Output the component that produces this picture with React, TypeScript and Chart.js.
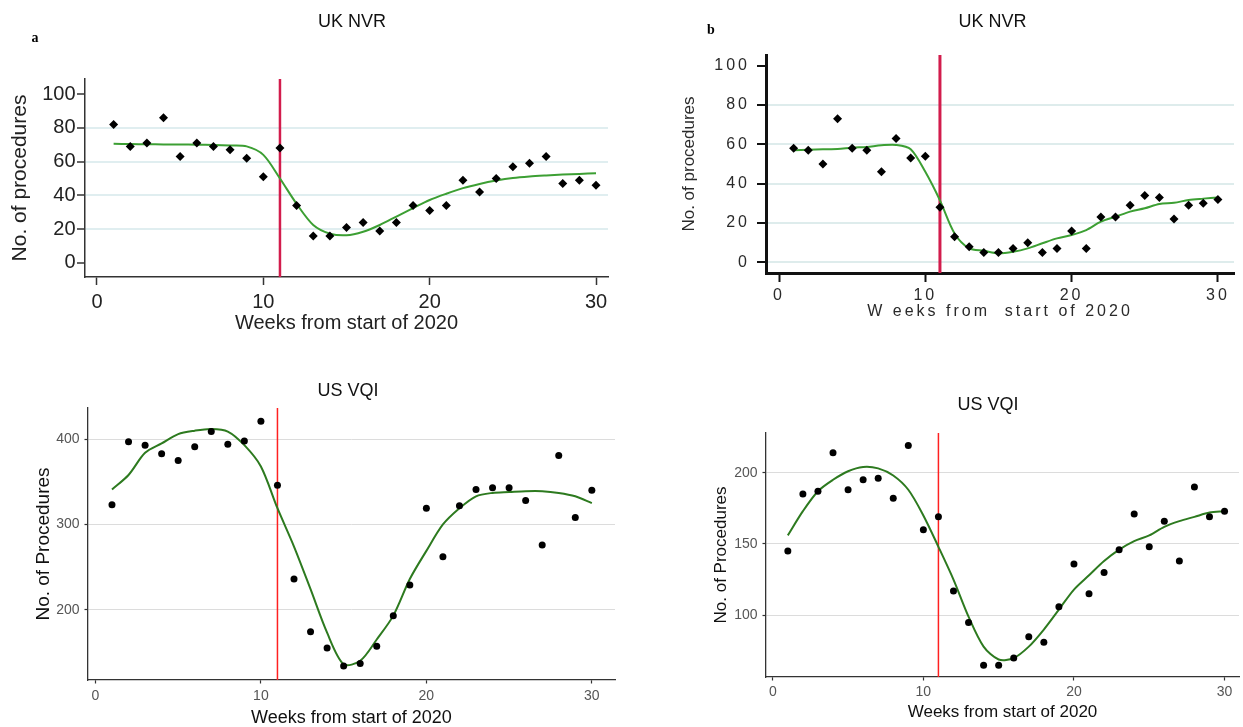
import React, { useEffect, useRef } from "react";
import { Chart, registerables } from "chart.js";

Chart.register(...registerables);

// ---------------- data ----------------
const WEEKS = [1, 2, 3, 4, 5, 6, 7, 8, 9, 10, 11, 12, 13, 14, 15, 16, 17, 18, 19, 20, 21, 22, 23, 24, 25, 26, 27, 28, 29, 30];
const LOCKDOWN_WEEK = 11;
const X_TICKS = [0, 10, 20, 30];

// a: UK NVR
const A_Y_TICKS = [0, 20, 40, 60, 80, 100];
const A_Y_GRID = [20, 40, 60, 80];
const A_POINTS = [82, 69, 71, 86, 63, 71, 69, 67, 62, 51, 68, 34, 16, 16, 21, 24, 19, 24, 34, 31, 34, 49, 42, 50, 57, 59, 63, 47, 49, 46];
const A_SMOOTH = [70.5, 70.4, 70.3, 70.2, 70.1, 70.0, 69.8, 69.5, 69.0, 64.0, 50.0, 35.0, 22.5, 17.4, 16.4, 18.5, 22.5, 27.5, 32.5, 37.3, 41.0, 44.3, 46.8, 48.8, 50.3, 51.2, 51.8, 52.3, 52.7, 53.1];

// b: UK NVR
const B_Y_TICKS = [0, 20, 40, 60, 80, 100];
const B_Y_GRID = [0, 20, 40, 60, 80];
const B_POINTS = [58, 57, 50, 73, 58, 57, 46, 63, 53, 54, 28, 13, 8, 5, 5, 7, 10, 5, 7, 16, 7, 23, 23, 29, 34, 33, 22, 29, 30, 32];
const B_SMOOTH = [57, 57.3, 57.5, 57.6, 58.3, 58.7, 59.5, 59.7, 57.5, 46, 31.5, 14.7, 7.1, 5.9, 4.6, 5.4, 7.1, 9.7, 12.2, 13.9, 16.4, 20.7, 23.2, 25.8, 27.5, 29.7, 30.3, 31.7, 32.4, 33];

// c: US VQI
const C_Y_TICKS = [200, 300, 400];
const C_POINTS = [323, 397, 393, 383, 375, 391, 409, 394, 398, 421, 346, 236, 174, 155, 134, 137, 157, 193, 229, 319, 262, 322, 341, 343, 343, 328, 276, 381, 308, 340];
const C_SMOOTH = [341, 358, 384, 395, 406, 410, 412, 409, 393, 368, 319, 274, 224, 173, 136, 140, 165, 193, 236, 269, 300, 319, 333, 337, 338, 339, 339, 337, 333, 325];

// d: US VQI
const D_Y_TICKS = [100, 150, 200];
const D_POINTS = [145, 185, 187, 214, 188, 195, 196, 182, 219, 160, 169, 117, 95, 65, 65, 70, 85, 81, 106, 136, 115, 130, 146, 171, 148, 166, 138, 190, 169, 173];
const D_SMOOTH = [156, 173, 187, 195, 201, 204, 203, 198, 188, 170, 148, 125, 99, 78, 69, 70, 78, 90, 104, 118, 128, 138, 146, 152, 156, 162, 166, 169, 172, 173];

// ---------------- styling / layout ----------------
const SANS = "'Liberation Sans', Arial, sans-serif";
const SERIF = "'Liberation Serif', 'Times New Roman', serif";

type TextItem = { text: string; x: number; y: number; font: string; color: string };

type PanelCfg = {
  key: string;
  left: number; top: number; width: number; height: number;
  padTop: number; padRight: number; yAxisWidth: number; xAxisHeight: number;
  xMin: number; xMax: number;
  yMin: number; yMax: number; yTicks: number[]; yGrid: number[] | null;
  points: number[]; smooth: number[];
  pointStyle: string; pointRadius: number;
  smoothColor: string; smoothWidth: number;
  vlineColor: string; vlineWidth: number;
  tickSize: number; tickColor: string; tickLength: number; tickWidth: number;
  xTickPad: number; yTickPad: number;
  axisColor: string; axisWidth: number;
  gridColor: string; gridWidth: number;
  xTitle: string; xTitleSize: number; xTitlePad: number;
  yTitle: string; yTitleSize: number; yTitlePad: number;
  titleColor: string;
  letterSpacing: string;
  unspacedSize: string | null;
  texts: TextItem[];
};

const PANELS: PanelCfg[] = [
  {
    key: "a",
    left: 0, top: 0, width: 620, height: 340,
    padTop: 79, padRight: 12, yAxisWidth: 85, xAxisHeight: 63,
    xMin: -0.72, xMax: 30.72,
    yMin: -8.3, yMax: 108.9, yTicks: A_Y_TICKS, yGrid: A_Y_GRID,
    points: A_POINTS, smooth: A_SMOOTH,
    pointStyle: "rectRot", pointRadius: 4.5,
    smoothColor: "#3c9f33", smoothWidth: 2,
    vlineColor: "#d21c4c", vlineWidth: 2.5,
    tickSize: 20, tickColor: "#222", tickLength: 8, tickWidth: 1.5,
    xTickPad: 5, yTickPad: 1.5,
    axisColor: "#333", axisWidth: 1.5,
    gridColor: "#e0eef0", gridWidth: 2,
    xTitle: "Weeks from start of 2020", xTitleSize: 20, xTitlePad: 7,
    yTitle: "No. of procedures", yTitleSize: 21, yTitlePad: 9.5,
    titleColor: "#222",
    letterSpacing: "0px",
    unspacedSize: null,
    texts: [
      { text: "UK NVR", x: 352, y: 21.7, font: `18px ${SANS}`, color: "#111" },
      { text: "a", x: 35, y: 38, font: `bold 14px ${SERIF}`, color: "#000" },
    ],
  },
  {
    key: "b",
    left: 620, top: 0, width: 623, height: 340,
    padTop: 55, padRight: 9, yAxisWidth: 146, xAxisHeight: 67,
    xMin: -0.89, xMax: 31.1,
    yMin: -5.4, yMax: 105.4, yTicks: B_Y_TICKS, yGrid: B_Y_GRID,
    points: B_POINTS, smooth: B_SMOOTH,
    pointStyle: "rectRot", pointRadius: 4.5,
    smoothColor: "#3c9f33", smoothWidth: 2,
    vlineColor: "#d21c4c", vlineWidth: 3,
    tickSize: 16, tickColor: "#2a2a2a", tickLength: 9, tickWidth: 2,
    xTickPad: 4, yTickPad: 7,
    axisColor: "#111", axisWidth: 3,
    gridColor: "#deecec", gridWidth: 2,
    xTitle: "W eeks from  start of 2020", xTitleSize: 16, xTitlePad: 20,
    yTitle: "No. of procedures", yTitleSize: 17, yTitlePad: 61,
    titleColor: "#2a2a2a",
    letterSpacing: "3px",
    unspacedSize: "17px",
    texts: [
      { text: "UK NVR", x: 372.6, y: 21.7, font: `18px ${SANS}`, color: "#111" },
      { text: "b", x: 91, y: 30, font: `bold 14px ${SERIF}`, color: "#000" },
    ],
  },
  {
    key: "c",
    left: 0, top: 360, width: 620, height: 367,
    padTop: 48, padRight: 5, yAxisWidth: 88, xAxisHeight: 47,
    xMin: -0.45, xMax: 31.4,
    yMin: 117.5, yMax: 436.6, yTicks: C_Y_TICKS, yGrid: null,
    points: C_POINTS, smooth: C_SMOOTH,
    pointStyle: "circle", pointRadius: 3.5,
    smoothColor: "#2d7a1f", smoothWidth: 2,
    vlineColor: "#ff2020", vlineWidth: 1.5,
    tickSize: 14, tickColor: "#555", tickLength: 3.5, tickWidth: 1.2,
    xTickPad: 4, yTickPad: 5,
    axisColor: "#333", axisWidth: 1.3,
    gridColor: "#dcdcdc", gridWidth: 1,
    xTitle: "Weeks from start of 2020", xTitleSize: 18, xTitlePad: 0,
    yTitle: "No. of Procedures", yTitleSize: 19, yTitlePad: 34,
    titleColor: "#111",
    letterSpacing: "0px",
    unspacedSize: null,
    texts: [{ text: "US VQI", x: 348, y: 30.7, font: `18px ${SANS}`, color: "#111" }],
  },
  {
    key: "d",
    left: 620, top: 360, width: 623, height: 367,
    padTop: 73, padRight: 0, yAxisWidth: 146, xAxisHeight: 50,
    xMin: -0.45, xMax: 30.96,
    yMin: 56.7, yMax: 227.8, yTicks: D_Y_TICKS, yGrid: null,
    points: D_POINTS, smooth: D_SMOOTH,
    pointStyle: "circle", pointRadius: 3.5,
    smoothColor: "#2d7a1f", smoothWidth: 2,
    vlineColor: "#ff2020", vlineWidth: 1.5,
    tickSize: 14, tickColor: "#555", tickLength: 3.5, tickWidth: 1.2,
    xTickPad: 3, yTickPad: 5,
    axisColor: "#333", axisWidth: 1.3,
    gridColor: "#dcdcdc", gridWidth: 1,
    xTitle: "Weeks from start of 2020", xTitleSize: 17, xTitlePad: 6,
    yTitle: "No. of Procedures", yTitleSize: 17, yTitlePad: 92.5,
    titleColor: "#111",
    letterSpacing: "0px",
    unspacedSize: null,
    texts: [{ text: "US VQI", x: 368, y: 45, font: `18px ${SANS}`, color: "#111" }],
  },
];

function buildConfig(c: PanelCfg): any {
  const pts = WEEKS.map((w, i) => ({ x: w, y: c.points[i] }));
  const sm = WEEKS.map((w, i) => ({ x: w, y: c.smooth[i] }));
  const vl = [
    { x: LOCKDOWN_WEEK, y: c.yMin },
    { x: LOCKDOWN_WEEK, y: c.yMax },
  ];
  const tickFont = { family: SANS, size: c.tickSize, lineHeight: 1.2 };

  const textPlugin = {
    id: "panelText" + c.key,
    beforeDraw(chart: any) {
      const ctx = chart.ctx as any;
      if (c.letterSpacing !== "0px" && !ctx.__spacingPatched) {
        const desc = Object.getOwnPropertyDescriptor(CanvasRenderingContext2D.prototype, "font");
        if (desc && desc.get && desc.set) {
          Object.defineProperty(ctx, "font", {
            configurable: true,
            get() {
              return desc.get!.call(this);
            },
            set(v: string) {
              desc.set!.call(this, v);
              (this as any).letterSpacing =
                c.unspacedSize && String(v).includes(c.unspacedSize) ? "0px" : c.letterSpacing;
            },
          });
          ctx.__spacingPatched = true;
        }
      }
      ctx.letterSpacing = c.letterSpacing;
    },
    afterDraw(chart: any) {
      const ctx = chart.ctx as any;
      ctx.save();
      for (const t of c.texts) {
        ctx.font = t.font;
        ctx.letterSpacing = "0px";
        ctx.textAlign = "center";
        ctx.textBaseline = "middle";
        ctx.fillStyle = t.color;
        ctx.fillText(t.text, t.x, t.y);
      }
      ctx.restore();
      ctx.letterSpacing = "0px";
    },
  };

  return {
    type: "scatter",
    data: {
      datasets: [
        {
          label: "Weekly procedures",
          data: pts,
          showLine: false,
          pointStyle: c.pointStyle,
          pointRadius: c.pointRadius,
          backgroundColor: "#000",
          borderColor: "#000",
          borderWidth: 0,
        },
        {
          label: "Smoothed",
          data: sm,
          showLine: true,
          pointRadius: 0,
          borderColor: c.smoothColor,
          borderWidth: c.smoothWidth,
          tension: 0.3,
          fill: false,
        },
        {
          label: "Week 11",
          data: vl,
          showLine: true,
          pointRadius: 0,
          borderColor: c.vlineColor,
          borderWidth: c.vlineWidth,
          fill: false,
        },
      ],
    },
    options: {
      animation: false,
      responsive: true,
      maintainAspectRatio: false,
      events: [],
      layout: { padding: { top: c.padTop, right: c.padRight, left: 0, bottom: 0 } },
      plugins: {
        legend: { display: false },
        tooltip: { enabled: false },
        title: { display: false },
      },
      scales: {
        x: {
          type: "linear",
          min: c.xMin,
          max: c.xMax,
          afterBuildTicks: (s: any) => {
            s.ticks = X_TICKS.map((v) => ({ value: v }));
          },
          afterFit: (s: any) => {
            s.height = c.xAxisHeight;
          },
          ticks: { font: tickFont, color: c.tickColor, padding: c.xTickPad, maxRotation: 0, autoSkip: false },
          grid: {
            display: true,
            drawOnChartArea: false,
            drawTicks: true,
            tickLength: c.tickLength,
            tickWidth: c.tickWidth,
            tickColor: c.axisColor,
            color: c.axisColor,
          },
          border: { display: true, color: c.axisColor, width: c.axisWidth },
          title: {
            display: true,
            text: c.xTitle,
            color: c.titleColor,
            font: { family: SANS, size: c.xTitleSize, lineHeight: 1 },
            padding: { top: 0, bottom: c.xTitlePad },
          },
        },
        y: {
          type: "linear",
          min: c.yMin,
          max: c.yMax,
          afterBuildTicks: (s: any) => {
            s.ticks = c.yTicks.map((v) => ({ value: v }));
          },
          afterFit: (s: any) => {
            s.width = c.yAxisWidth;
          },
          ticks: { font: tickFont, color: c.tickColor, padding: c.yTickPad, autoSkip: false },
          grid: {
            display: true,
            drawOnChartArea: true,
            drawTicks: true,
            tickLength: c.tickLength,
            tickWidth: c.tickWidth,
            tickColor: c.axisColor,
            lineWidth: c.gridWidth,
            color: (ctx: any) => {
              const v = ctx.tick ? ctx.tick.value : null;
              if (c.yGrid && !c.yGrid.includes(v)) return "rgba(0,0,0,0)";
              return c.gridColor;
            },
          },
          border: { display: true, color: c.axisColor, width: c.axisWidth },
          title: {
            display: true,
            text: c.yTitle,
            color: c.titleColor,
            font: { family: SANS, size: c.yTitleSize, lineHeight: 1 },
            padding: { top: c.yTitlePad, bottom: 0 },
          },
        },
      },
    },
    plugins: [textPlugin],
  };
}

function Panel({ cfg }: { cfg: PanelCfg }) {
  const ref = useRef<HTMLCanvasElement | null>(null);
  useEffect(() => {
    if (!ref.current) return;
    const chart = new Chart(ref.current, buildConfig(cfg));
    return () => chart.destroy();
  }, [cfg]);
  return (
    <div
      style={{
        position: "absolute",
        left: cfg.left,
        top: cfg.top,
        width: cfg.width,
        height: cfg.height,
      }}
    >
      <canvas ref={ref} />
    </div>
  );
}

export default function App() {
  return (
    <div
      style={{
        position: "absolute",
        left: 0,
        top: 0,
        width: 1243,
        height: 727,
        background: "#fff",
        overflow: "hidden",
      }}
    >
      {PANELS.map((p) => (
        <Panel key={p.key} cfg={p} />
      ))}
    </div>
  );
}
